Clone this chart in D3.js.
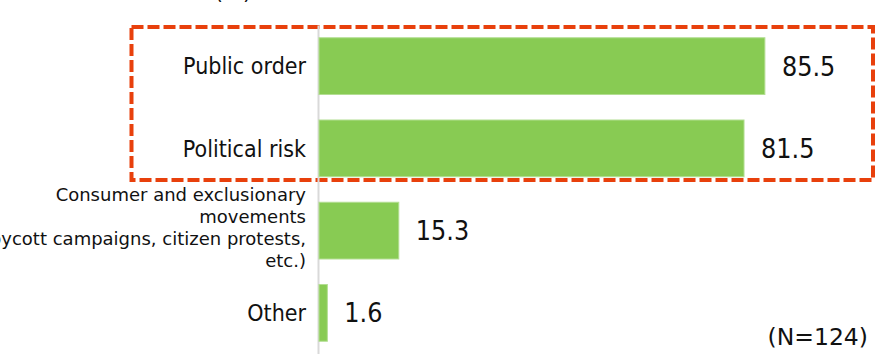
<!DOCTYPE html>
<html>
<head>
<meta charset="utf-8">
<script src="https://cdn.jsdelivr.net/npm/d3@7"></script>
<style>
  html, body { margin: 0; padding: 0; background: #fff; }
  svg { display: block; }
  text { font-family: "DejaVu Sans", Verdana, sans-serif; fill: #111; }
</style>
</head>
<body>
<svg id="chart" width="876" height="354"></svg>
<script>
const categories = ["Public order", "Political risk", "Consumer and exclusionary movements", "Other"];
const categoryLines = [
  ["Public order"],
  ["Political risk"],
  ["Consumer and exclusionary", "movements", "(boycott campaigns, citizen protests,", "etc.)"],
  ["Other"]
];
const values = [85.5, 81.5, 15.3, 1.6];
const unitLabel = "(%)";
const noteLabel = "(N=124)";

const svg = d3.select("#chart");

const x = d3.scaleLinear().domain([0, 100]).range([319, 840.5]);
const y = d3.scaleBand().domain(categories).range([25, 354]).paddingInner(0.31).paddingOuter(0.155);
const stretch = 1.1;

// highlight box
svg.append("rect")
  .attr("x", 131.5).attr("y", 27)
  .attr("width", 873 - 131.5).attr("height", 180 - 27)
  .attr("fill", "none")
  .attr("stroke", "#E8400C")
  .attr("stroke-width", 4)
  .attr("stroke-dasharray", "12 4");

// axis line
const axis = d3.axisLeft(y).tickSize(0).tickSizeOuter(0).tickFormat("");
const axisG = svg.append("g").attr("transform", "translate(318,0)").call(axis);
axisG.select(".domain").attr("stroke", "#d9d9d9").attr("stroke-width", 2);
axisG.selectAll(".tick").remove();

// bars
svg.selectAll("rect.bar")
  .data(values)
  .join("rect")
  .attr("class", "bar")
  .attr("x", x(0))
  .attr("y", (d, i) => y(categories[i]))
  .attr("width", d => x(d) - x(0))
  .attr("height", y.bandwidth())
  .attr("fill", "#88CB53")
  .attr("stroke", "#b3de92")
  .attr("stroke-width", 1);

// value labels
svg.selectAll("text.val")
  .data(values)
  .join("text")
  .attr("class", "val")
  .attr("transform", (d, i) => `translate(${x(d) + 17},${y(categories[i]) + y.bandwidth() / 2}) scale(1,${stretch})`)
  .attr("dy", "0.36em")
  .attr("font-size", 24)
  .text(d => d.toFixed(1));

// category labels
categories.forEach((c, i) => {
  const lines = categoryLines[i];
  const multi = lines.length > 1;
  const fs = multi ? 18 : 20.7;
  const lh = 22;
  const cy = y(c) + y.bandwidth() / 2 - (multi ? 3 : 0);
  const t = svg.append("text")
    .attr("text-anchor", "end")
    .attr("font-size", fs)
    .attr("transform", `translate(306,${cy}) scale(1,${multi ? 1 : stretch})`);
  lines.forEach((ln, j) => {
    t.append("tspan")
      .attr("x", 0)
      .attr("y", (j - (lines.length - 1) / 2) * lh)
      .attr("dy", "0.36em")
      .text(ln);
  });
});

// unit label (top, mostly cut off as in the reference)
svg.append("text")
  .attr("x", 233).attr("y", -1)
  .attr("text-anchor", "middle")
  .attr("font-size", 21)
  .text(unitLabel);

// note
svg.append("text")
  .attr("x", 868).attr("y", 345)
  .attr("text-anchor", "end")
  .attr("font-size", 23.5)
  .text(noteLabel);
</script>
</body>
</html>
